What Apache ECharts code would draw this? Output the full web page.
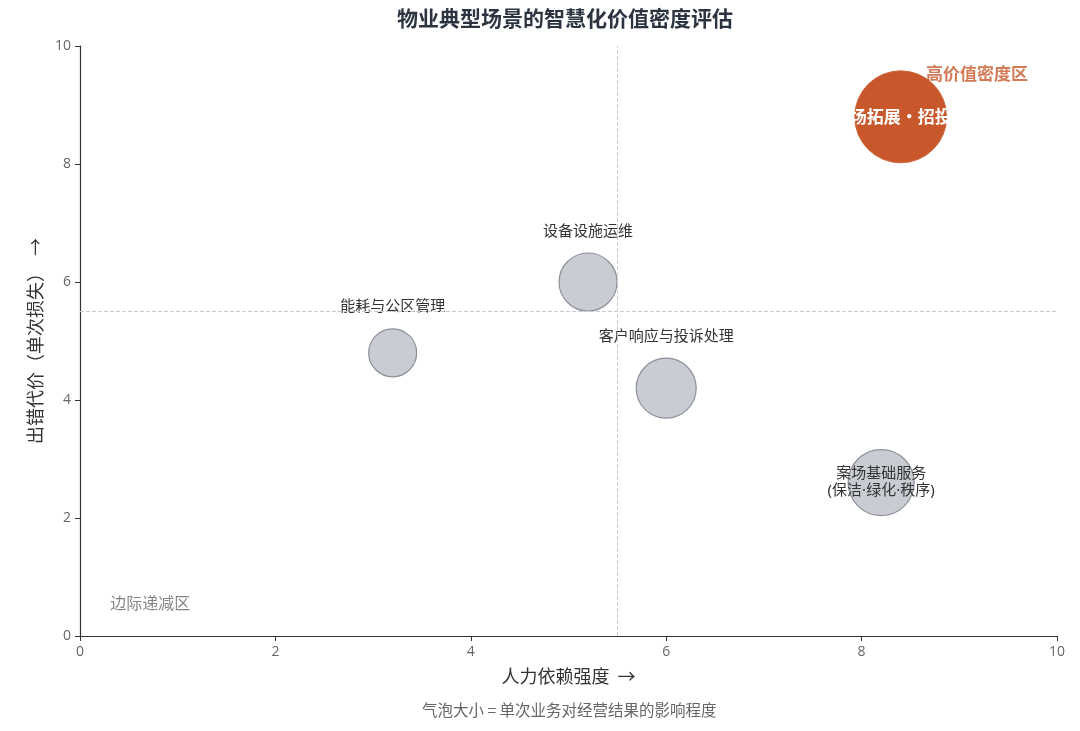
<!DOCTYPE html>
<html>
<head>
<meta charset="utf-8">
<script src="https://cdn.jsdelivr.net/npm/echarts@6/dist/echarts.min.js"></script>
<style>
  html, body { margin: 0; padding: 0; background: #fff; }
  #main { width: 1080px; height: 731px; }
</style>
</head>
<body>
<div id="main"></div>
<script>
// 场景数据
var names = ['能耗与公区管理', '设备设施运维', '客户响应与投诉处理', '案场基础服务\n(保洁·绿化·秩序)', '市场拓展・招投标'];
var laborDep = [3.2, 5.2, 6.0, 8.2, 8.4];     // 人力依赖强度
var errorCost = [4.8, 6.0, 4.2, 2.6, 8.8];    // 出错代价
var impact = [48, 58, 60, 66, 92];            // 影响程度（气泡直径）
var highlight = [false, false, false, false, true];

var xTicks = [0, 2, 4, 6, 8, 10];
var yTicks = [0, 2, 4, 6, 8, 10];
var threshold = 5.5;

var font = '"Noto Sans CJK SC", "Noto Sans", sans-serif';
var latinFirst = '"Noto Sans", "Noto Sans CJK SC", sans-serif';

var chartDom = document.getElementById('main');
var myChart = echarts.init(chartDom);

var bubbles = names.map(function (n, i) {
    var hi = highlight[i];
    var inside = hi || i === 3;
    return {
        name: n,
        value: [laborDep[i], errorCost[i], impact[i]],
        itemStyle: hi ? {
            color: '#c8582b', borderColor: '#d06a40', borderWidth: 1, opacity: 1
        } : {
            color: '#c9ccd3', borderColor: '#8e9198', borderWidth: 1.2, opacity: 1
        },
        label: inside ? {
            show: true,
            formatter: '{b}',
            position: 'inside',
            color: hi ? '#ffffff' : '#333333',
            fontWeight: hi ? 'bold' : 'normal',
            fontSize: hi ? 17 : 15,
            lineHeight: 17,
            fontFamily: hi ? font : latinFirst
        } : {
            show: true,
            formatter: '{b}',
            position: 'top',
            distance: 15,
            color: '#333333',
            fontSize: 15,
            fontFamily: font
        }
    };
});

var option = {
    backgroundColor: '#ffffff',
    title: {
        text: '物业典型场景的智慧化价值密度评估',
        left: 560,
        top: 3,
        textAlign: 'center',
        textStyle: { fontSize: 21, fontWeight: 'bold', color: '#2b3440', fontFamily: font }
    },
    grid: { left: 80, right: 23, top: 46, bottom: 95 },
    xAxis: {
        type: 'value', min: 0, max: 10, interval: 2,
        name: '人力依赖强度  →',
        nameLocation: 'middle',
        nameGap: 31,
        nameTextStyle: { fontSize: 18, color: '#333', fontFamily: font },
        axisLine: { show: true, lineStyle: { color: '#333', width: 1.2 } },
        axisTick: { show: true, length: 5, lineStyle: { color: '#333' } },
        axisLabel: { color: '#666', fontSize: 14, margin: 9, fontFamily: '"Open Sans", sans-serif',
            formatter: function (v) { return xTicks.indexOf(v) >= 0 ? String(v) : ''; } },
        splitLine: { show: false }
    },
    yAxis: {
        type: 'value', min: 0, max: 10, interval: 2,
        name: '出错代价（单次损失）  →',
        nameLocation: 'middle',
        nameRotate: 90,
        nameGap: 36,
        nameTextStyle: { fontSize: 18, color: '#333', fontFamily: font },
        axisLine: { show: true, lineStyle: { color: '#333', width: 1.2 } },
        axisTick: { show: true, length: 5, lineStyle: { color: '#333' } },
        axisLabel: { color: '#666', fontSize: 14, margin: 9, fontFamily: '"Open Sans", sans-serif',
            formatter: function (v) { return yTicks.indexOf(v) >= 0 ? String(v) : ''; } },
        splitLine: { show: false }
    },
    graphic: [{
        type: 'text',
        left: 568 - 146,
        top: 702,
        style: {
            text: '气泡大小 = 单次业务对经营结果的影响程度',
            fill: '#666', fontSize: 15.5, fontFamily: font,
            width: 320, align: 'center'
        }
    }],
    series: [
        {
            type: 'scatter',
            data: bubbles,
            symbolSize: function (v) { return v[2]; },
            z: 3,
            markLine: {
                silent: true,
                symbol: ['none', 'none'],
                label: { show: false },
                lineStyle: { color: '#c8ccd2', type: 'dashed', width: 1 },
                data: [{ xAxis: threshold }, { yAxis: threshold }]
            }
        },
        {
            type: 'scatter',
            symbolSize: 0,
            silent: true,
            z: 4,
            data: [
                { value: [9.18, 9.54], label: { show: true, position: 'inside', formatter: '高价值密度区',
                    color: '#c8582b', fontWeight: 'bold', fontSize: 17, fontFamily: font } },
                { value: [0.72, 0.56], label: { show: true, position: 'inside', formatter: '边际递减区',
                    color: '#666', fontSize: 16, fontFamily: font } }
            ]
        }
    ]
};

option && myChart.setOption(option);
</script>
</body>
</html>
